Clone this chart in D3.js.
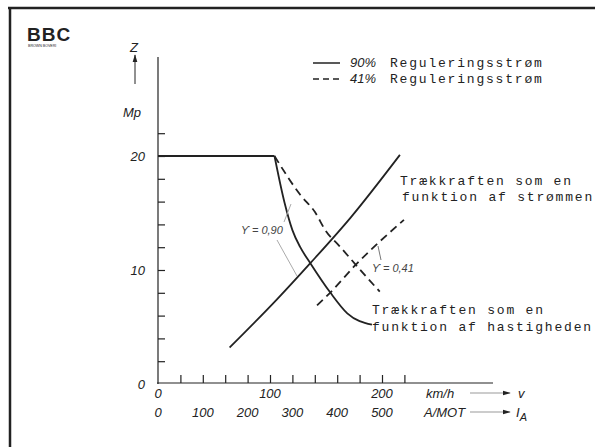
<!DOCTYPE html>
<html>
<head>
<meta charset="utf-8">
<script src="https://cdn.jsdelivr.net/npm/d3@7"></script>
<style>
  body { margin: 0; background: #fff; }
  svg { display: block; }
  .num { font-family: "Liberation Sans", Arial, sans-serif; font-style: italic; font-size: 13px; fill: #222; }
  .mono { font-family: "Courier New", "Liberation Mono", monospace; font-size: 13px; letter-spacing: 1.8px; fill: #222; }
  .note { font-family: "Liberation Sans", Arial, sans-serif; font-style: italic; font-size: 11px; fill: #444; }
</style>
</head>
<body>
<div class="chart"></div>
<script>

// tractive force as function of speed (km/h -> Mp)
var speedSolidV = [0, 104, 113, 120, 127, 136, 154, 169, 191];
var speedSolidZ = [20, 20, 15.9, 13.5, 12.0, 10.6, 8.0, 6.2, 5.2];
var speedDashedV = [104, 127, 140, 150, 162, 178, 198];
var speedDashedZ = [20, 16.6, 15.1, 13.4, 12.1, 10.3, 8.1];

// tractive force as function of current (A/MOT -> Mp)
var currSolidI = [160, 265, 340, 430, 540];
var currSolidZ = [3.2, 7.4, 10.6, 14.6, 20.1];
var currDashedI = [355, 384, 440, 549];
var currDashedZ = [6.9, 8.0, 10.4, 14.4];

var yLabels = [0, 10, 20];
var yTicks = [2, 4, 6, 8, 10, 12, 14, 16, 18, 20, 22];
var vLabels = [0, 100, 200];
var vTicks = [20, 40, 60, 80, 100, 120, 140, 160, 180, 200, 220];
var iLabels = [0, 100, 200, 300, 400, 500];

var svg = d3.select(".chart").append("svg")
    .attr("width", 595)
    .attr("height", 447);

var ink = "#222";

var y = d3.scaleLinear().domain([0, 20]).range([384, 156]);
var xV = d3.scaleLinear().domain([0, 200]).range([158, 382]);
var xI = d3.scaleLinear().domain([0, 500]).range([158, 382]);

// frame (only top and left edge visible)
svg.append("line").attr("x1", 8).attr("x2", 595).attr("y1", 8).attr("y2", 8)
    .attr("stroke", ink).attr("stroke-width", 2.5);
svg.append("line").attr("x1", 10).attr("x2", 10).attr("y1", 7).attr("y2", 447)
    .attr("stroke", ink).attr("stroke-width", 2.5);

// logo
svg.append("text")
    .attr("x", 27).attr("y", 41)
    .attr("font-family", "Liberation Sans, Arial, sans-serif")
    .attr("font-weight", "bold").attr("font-size", 19)
    .attr("letter-spacing", 1)
    .attr("fill", ink)
    .text("BBC");
svg.append("text")
    .attr("x", 28).attr("y", 47)
    .attr("font-family", "Liberation Sans, Arial, sans-serif")
    .attr("font-size", 3.6).attr("fill", ink)
    .text("BROWN BOVERI");

// axes
var gy = svg.append("g").attr("transform", "translate(158,0)");
gy.call(d3.axisRight(y).tickValues(yTicks).tickSize(7).tickFormat(""))
    .call(g => g.select(".domain").remove());
gy.append("line").attr("x1", 0).attr("x2", 0).attr("y1", 57).attr("y2", 384);
gy.selectAll("line").attr("stroke", ink).attr("stroke-width", 1.2);

var gx = svg.append("g").attr("transform", "translate(0,383)");
gx.call(d3.axisTop(xV).tickValues(vTicks).tickSize(8).tickFormat(""))
    .call(g => g.select(".domain").remove());
gx.append("line").attr("x1", 157).attr("x2", 493).attr("y1", 0).attr("y2", 0);
gx.selectAll("line").attr("stroke", ink).attr("stroke-width", 1.2);

// tick labels
svg.selectAll(".ylab").data(yLabels).enter().append("text")
    .attr("class", "num")
    .attr("x", 145)
    .attr("y", d => y(d) + 5)
    .attr("text-anchor", "end")
    .text(d => d);

svg.selectAll(".vlab").data(vLabels).enter().append("text")
    .attr("class", "num")
    .attr("x", d => xV(d))
    .attr("y", 398)
    .attr("text-anchor", "middle")
    .text(d => d);

svg.selectAll(".ilab").data(iLabels).enter().append("text")
    .attr("class", "num")
    .attr("x", d => xI(d))
    .attr("y", 417)
    .attr("text-anchor", "middle")
    .text(d => d);

svg.append("text").attr("class", "num").attr("x", 426).attr("y", 398).text("km/h");
svg.append("text").attr("class", "num").attr("x", 424).attr("y", 417).text("A/MOT");

// unit arrows
svg.append("defs").append("marker")
    .attr("id", "arr")
    .attr("viewBox", "0 0 10 10")
    .attr("refX", 9).attr("refY", 5)
    .attr("markerWidth", 8).attr("markerHeight", 8)
    .attr("orient", "auto-start-reverse")
    .append("path").attr("d", "M0,2 L10,5 L0,8 Z").attr("fill", ink);

[393, 412].forEach(function(yy) {
    svg.append("line")
        .attr("x1", 470).attr("x2", 510).attr("y1", yy).attr("y2", yy)
        .attr("stroke", "#999").attr("stroke-width", 1)
        .attr("marker-end", "url(#arr)");
});
svg.append("text").attr("class", "num").attr("x", 518).attr("y", 398).text("v");
var ia = svg.append("text").attr("class", "num").attr("x", 516).attr("y", 417).attr("font-size", 15);
ia.append("tspan").text("I");
ia.append("tspan").attr("dy", 4).attr("font-size", 11).text("A");

// Z / Mp
svg.append("text").attr("class", "num").attr("x", 130).attr("y", 52).attr("font-size", 14).text("Z");
svg.append("line")
    .attr("x1", 135).attr("x2", 135).attr("y1", 84).attr("y2", 55)
    .attr("stroke", ink).attr("stroke-width", 1)
    .attr("marker-end", "url(#arr)");
svg.append("text").attr("class", "num").attr("x", 123).attr("y", 117).text("Mp");

// curves
var lineV = d3.line().x(d => xV(d[0])).y(d => y(d[1]));
var lineVc = d3.line().x(d => xV(d[0])).y(d => y(d[1])).curve(d3.curveMonotoneX);
var lineIc = d3.line().x(d => xI(d[0])).y(d => y(d[1])).curve(d3.curveMonotoneX);

var sV = speedSolidV.map((v, i) => [v, speedSolidZ[i]]);
var dV = speedDashedV.map((v, i) => [v, speedDashedZ[i]]);
var sI = currSolidI.map((v, i) => [v, currSolidZ[i]]);
var dI = currDashedI.map((v, i) => [v, currDashedZ[i]]);

svg.append("path").attr("d", lineV(sV.slice(0, 2)))
    .attr("fill", "none").attr("stroke", ink).attr("stroke-width", 2);
svg.append("path").attr("d", lineVc(sV.slice(1)))
    .attr("fill", "none").attr("stroke", ink).attr("stroke-width", 1.8);
svg.append("path").attr("d", lineVc(dV))
    .attr("fill", "none").attr("stroke", ink).attr("stroke-width", 1.8)
    .attr("stroke-dasharray", "8,5");
svg.append("path").attr("d", lineIc(sI))
    .attr("fill", "none").attr("stroke", ink).attr("stroke-width", 1.8);
svg.append("path").attr("d", lineIc(dI))
    .attr("fill", "none").attr("stroke", ink).attr("stroke-width", 1.8)
    .attr("stroke-dasharray", "8,5");

// efficiency notes with leaders
svg.append("text").attr("class", "note").attr("x", 241).attr("y", 234).text("\u03D2 = 0,90");
svg.append("line").attr("x1", 284).attr("y1", 222).attr("x2", 291).attr("y2", 204)
    .attr("stroke", "#aaa").attr("stroke-width", 1);
svg.append("line").attr("x1", 277).attr("y1", 240).attr("x2", 297).attr("y2", 276)
    .attr("stroke", "#aaa").attr("stroke-width", 1);

svg.append("text").attr("class", "note").attr("x", 372).attr("y", 272).text("\u03D2 = 0,41");
svg.append("line").attr("x1", 381).attr("y1", 260).attr("x2", 378).attr("y2", 246)
    .attr("stroke", "#777").attr("stroke-width", 1);

// legend
var legend = [["90%", null, 63], ["41%", "6,4", 79]];
legend.forEach(function(l) {
    svg.append("line")
        .attr("x1", 313).attr("x2", 340).attr("y1", l[2]).attr("y2", l[2])
        .attr("stroke", ink).attr("stroke-width", 1.5)
        .attr("stroke-dasharray", l[1]);
    svg.append("text").attr("class", "num").attr("x", 350).attr("y", l[2] + 4).text(l[0]);
    svg.append("text").attr("class", "mono").attr("x", 390).attr("y", l[2] + 4)
        .text("Reguleringsstrøm");
});

// curve captions
svg.append("text").attr("class", "mono").attr("x", 400).attr("y", 185).text("Trækkraften som en");
svg.append("text").attr("class", "mono").attr("x", 402).attr("y", 201).text("funktion af strømmen");
svg.append("text").attr("class", "mono").attr("x", 372).attr("y", 314).text("Trækkraften som en");
svg.append("text").attr("class", "mono").attr("x", 372).attr("y", 331).text("funktion af hastigheden");

</script>
</body>
</html>
